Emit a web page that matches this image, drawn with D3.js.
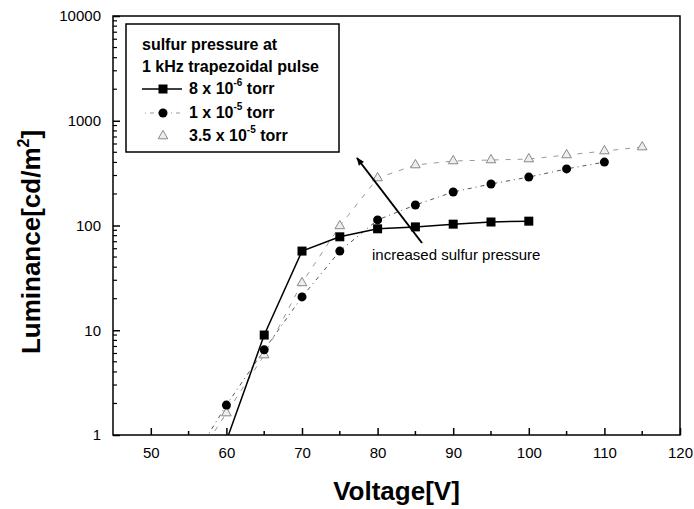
<!DOCTYPE html>
<html>
<head>
<meta charset="utf-8">
<script src="https://cdn.jsdelivr.net/npm/d3@7"></script>
<style>
  body { margin: 0; background: #fff; }
  svg { font-family: Arial, "Liberation Sans", sans-serif; }
</style>
</head>
<body>
<div id="chart"></div>
<script>
// data
const sqVolt = [60, 65, 70, 75, 80, 85, 90, 95, 100];
const sqLum = [0.88, 9.0, 57, 78, 93, 97, 103, 108, 110];

const ciVolt = [55, 60, 65, 70, 75, 80, 85, 90, 95, 100, 105, 110];
const ciLum = [0.5, 1.93, 6.5, 20.8, 57, 113, 157, 209, 249, 290, 347, 403];

const trVolt = [55, 60, 65, 70, 75, 80, 85, 90, 95, 100, 105, 110, 115];
const trLum = [0.45, 1.62, 5.8, 28.3, 99, 284, 378, 413, 422, 431, 471, 514, 561];

const xTicks = [50, 60, 70, 80, 90, 100, 110, 120];
const yTicks = [1, 10, 100, 1000, 10000];

const legendLabels = [["8 x 10", "-6", " torr"], ["1 x 10", "-5", " torr"], ["3.5 x 10", "-5", " torr"]];

const W = 694, H = 509;
const pL = 113, pR = 680, pT = 16, pB = 435;

const svg = d3.select("#chart").append("svg")
    .attr("width", W).attr("height", H);

const x = d3.scaleLinear().domain([45, 120]).range([pL, pR]);
const y = d3.scaleLog().domain([1, 10000]).range([pB, pT]);

const defs = svg.append("defs");
defs.append("clipPath").attr("id", "plotclip")
    .append("rect")
    .attr("x", pL).attr("y", pT)
    .attr("width", pR - pL).attr("height", pB - pT);

// frame
svg.append("rect")
    .attr("x", pL).attr("y", pT)
    .attr("width", pR - pL).attr("height", pB - pT)
    .attr("fill", "none").attr("stroke", "#000").attr("stroke-width", 1.5);

// x axis ticks (inward)
const xAxis = d3.axisBottom(x)
    .tickValues(xTicks)
    .tickSizeInner(-7).tickSizeOuter(0)
    .tickPadding(12)
    .tickFormat(d3.format("d"));
const gx = svg.append("g").attr("transform", `translate(0,${pB})`).call(xAxis);
gx.select(".domain").remove();
gx.selectAll("line").attr("stroke-width", 1.5);
gx.selectAll("text").attr("font-size", 15).attr("fill", "#000");

// minor x ticks
svg.append("g").selectAll("line")
    .data(d3.range(55, 120, 10))
    .join("line")
    .attr("x1", d => x(d)).attr("x2", d => x(d))
    .attr("y1", pB).attr("y2", pB - 4)
    .attr("stroke", "#000").attr("stroke-width", 1.5);

// y axis
const yAxis = d3.axisLeft(y)
    .tickValues(yTicks)
    .tickSizeInner(-7).tickSizeOuter(0)
    .tickPadding(12)
    .tickFormat(d3.format("d"));
const gy = svg.append("g").attr("transform", `translate(${pL},0)`).call(yAxis);
gy.select(".domain").remove();
gy.selectAll("line").attr("stroke-width", 1.5);
gy.selectAll("text").attr("font-size", 15).attr("fill", "#000");

// minor y ticks
let minor = [];
[1, 10, 100, 1000].forEach(dec => { for (let k = 2; k <= 9; k++) minor.push(dec * k); });
svg.append("g").selectAll("line")
    .data(minor)
    .join("line")
    .attr("x1", pL).attr("x2", pL + 4)
    .attr("y1", d => y(d)).attr("y2", d => y(d))
    .attr("stroke", "#000").attr("stroke-width", 1.2);

// axis titles
svg.append("text")
    .attr("x", (pL + pR) / 2).attr("y", 500)
    .attr("text-anchor", "middle")
    .attr("font-size", 26).attr("font-weight", "bold")
    .text("Voltage[V]");

const yl = svg.append("text")
    .attr("transform", `translate(40,242) rotate(-90)`)
    .attr("text-anchor", "middle")
    .attr("font-size", 26).attr("font-weight", "bold");
yl.append("tspan").text("Luminance[cd/m");
yl.append("tspan").attr("font-size", 16).attr("dy", -11).text("2");
yl.append("tspan").attr("dy", 11).text("]");

// series
const plot = svg.append("g").attr("clip-path", "url(#plotclip)");
const line = d3.line().x(d => x(d[0])).y(d => y(d[1]));

const sqData = d3.zip(sqVolt, sqLum);
const ciData = d3.zip(ciVolt, ciLum);
const trData = d3.zip(trVolt, trLum);

plot.append("path").datum(trData)
    .attr("d", line)
    .attr("fill", "none").attr("stroke", "#999")
    .attr("stroke-width", 1).attr("stroke-dasharray", "5,7");

plot.append("path").datum(ciData)
    .attr("d", line)
    .attr("fill", "none").attr("stroke", "#555")
    .attr("stroke-width", 1).attr("stroke-dasharray", "1,4,4,4");

plot.append("path").datum(sqData)
    .attr("d", line)
    .attr("fill", "none").attr("stroke", "#000").attr("stroke-width", 1.5);

const tri = d3.symbol().type(d3.symbolTriangle).size(40);

plot.selectAll(".tri").data(trData).join("path")
    .attr("class", "tri")
    .attr("transform", d => `translate(${x(d[0])},${y(d[1])})`)
    .attr("d", tri)
    .attr("fill", "#eee").attr("stroke", "#888").attr("stroke-width", 1);

plot.selectAll(".ci").data(ciData).join("circle")
    .attr("class", "ci")
    .attr("cx", d => x(d[0])).attr("cy", d => y(d[1]))
    .attr("r", 4.5).attr("fill", "#000");

plot.selectAll(".sq").data(sqData).join("rect")
    .attr("class", "sq")
    .attr("x", d => x(d[0]) - 4.5).attr("y", d => y(d[1]) - 4.5)
    .attr("width", 9).attr("height", 9).attr("fill", "#000");

// legend
const lg = svg.append("g");
lg.append("rect")
    .attr("x", 126).attr("y", 24).attr("width", 213).attr("height", 128)
    .attr("fill", "#fff").attr("stroke", "#000").attr("stroke-width", 1.5);
lg.append("text").attr("x", 142).attr("y", 50)
    .attr("font-size", 16).attr("font-weight", "bold").text("sulfur pressure at");
lg.append("text").attr("x", 142).attr("y", 72)
    .attr("font-size", 16).attr("font-weight", "bold").text("1 kHz trapezoidal pulse");

const rowY = [89, 113, 136];
lg.append("line").attr("x1", 142).attr("x2", 182).attr("y1", rowY[0]).attr("y2", rowY[0])
    .attr("stroke", "#000").attr("stroke-width", 1.5);
lg.append("rect").attr("x", 158.5).attr("y", rowY[0] - 4.5).attr("width", 9).attr("height", 9).attr("fill", "#000");
lg.append("line").attr("x1", 145).attr("x2", 180).attr("y1", rowY[1]).attr("y2", rowY[1])
    .attr("stroke", "#999").attr("stroke-width", 1).attr("stroke-dasharray", "1,4,4,4");
lg.append("circle").attr("cx", 163).attr("cy", rowY[1]).attr("r", 4.5).attr("fill", "#000");
lg.append("path").attr("transform", `translate(163,${rowY[2]})`).attr("d", tri)
    .attr("fill", "#eee").attr("stroke", "#888").attr("stroke-width", 1);

legendLabels.forEach((lab, i) => {
    const t = lg.append("text").attr("x", 189).attr("y", rowY[i] + 5)
        .attr("font-size", 16).attr("font-weight", "bold");
    t.append("tspan").text(lab[0]);
    t.append("tspan").attr("font-size", 10).attr("dy", -8).text(lab[1]);
    t.append("tspan").attr("dy", 8).text(lab[2]);
});

// annotation arrow
defs.append("marker")
    .attr("id", "ah").attr("viewBox", "0 0 10 10")
    .attr("refX", 9).attr("refY", 5)
    .attr("markerWidth", 5).attr("markerHeight", 4).attr("orient", "auto")
    .append("path").attr("d", "M0,1L10,5L0,9Z").attr("fill", "#000");
svg.append("line")
    .attr("x1", 422).attr("y1", 243).attr("x2", 357).attr("y2", 158)
    .attr("stroke", "#000").attr("stroke-width", 2)
    .attr("marker-end", "url(#ah)");
svg.append("text").attr("x", 372).attr("y", 260)
    .attr("font-size", 15).text("increased sulfur pressure");
</script>
</body>
</html>
